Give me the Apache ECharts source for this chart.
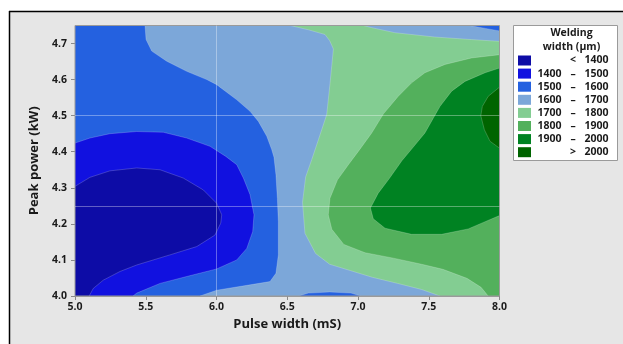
<!DOCTYPE html>
<html>
<head>
<meta charset="utf-8">
<script src="https://cdn.jsdelivr.net/npm/echarts@6/dist/echarts.min.js"></script>
<style>
  html, body { margin: 0; padding: 0; background: #ffffff; }
  #chart { width: 623px; height: 344px; }
</style>
</head>
<body>
<div id="chart"></div>
<script>
// Axis ranges and tick labels
const pulseRange = [5.0, 8.0];
const powerRange = [4.0, 4.75];
const pulseTicks = [5.0, 5.5, 6.0, 6.5, 7.0, 7.5, 8.0];
const powerTicks = [4.0, 4.1, 4.2, 4.3, 4.4, 4.5, 4.6, 4.7];

// Reference lines
const refPulse = [6.0];
const refPower = [4.25, 4.5];

// Welding width classes (µm)
const levelLow  = [null, 1400, 1500, 1600, 1700, 1800, 1900, 2000];
const levelHigh = [1400, 1500, 1600, 1700, 1800, 1900, 2000, null];
const levelColors = ['#0d0ca6', '#1111e0', '#2461e0', '#7ca7d9', '#83cd92', '#53b05c', '#008222', '#006400'];

// Contour lines, [pulse width, peak power]
const c1600West = [[5.495,4.75],[5.502,4.711],[5.542,4.679],[5.648,4.651],[5.789,4.623],[5.931,4.600],[6.001,4.586],[6.143,4.544],[6.237,4.512],[6.296,4.484],[6.355,4.443],[6.390,4.406],[6.406,4.385],[6.420,4.336],[6.430,4.271],[6.437,4.206],[6.437,4.114],[6.420,4.063],[6.378,4.040],[6.237,4.031],[6.001,4.016],[5.883,4.0]];
const c1600Bump = [[6.58,4.0],[6.65,4.008],[6.8,4.011],[6.95,4.008],[7.02,4.0]];
const c1600Corner = [[7.79,4.75],[7.9,4.742],[8.0,4.735]];
const c1500 = [[5.0,4.424],[5.106,4.438],[5.247,4.450],[5.436,4.456],[5.624,4.454],[5.789,4.438],[5.954,4.415],[6.066,4.387],[6.143,4.364],[6.190,4.327],[6.237,4.281],[6.265,4.225],[6.256,4.179],[6.214,4.132],[6.143,4.100],[6.001,4.075],[5.789,4.054],[5.601,4.035],[5.436,4.008],[5.41,4.0]];
const c1400 = [[5.0,4.304],[5.106,4.329],[5.247,4.347],[5.436,4.355],[5.601,4.350],[5.765,4.327],[5.907,4.294],[6.001,4.257],[6.037,4.225],[6.030,4.202],[5.989,4.169],[5.860,4.137],[5.671,4.114],[5.436,4.086],[5.318,4.068],[5.200,4.044],[5.129,4.021],[5.10,4.0]];
const c1700 = [[6.52,4.75],[6.65,4.738],[6.767,4.725],[6.80,4.708],[6.826,4.685],[6.815,4.640],[6.802,4.588],[6.779,4.503],[6.720,4.433],[6.673,4.378],[6.630,4.330],[6.608,4.260],[6.625,4.174],[6.70,4.118],[6.80,4.088],[6.95,4.070],[7.10,4.052],[7.28,4.035],[7.45,4.018],[7.58,4.0]];
const c1700North = [[8.0,4.706],[7.803,4.711],[7.544,4.718],[7.261,4.730],[7.097,4.744],[7.037,4.75]];
const c1800 = [[8.0,4.669],[7.803,4.660],[7.615,4.642],[7.473,4.619],[7.379,4.591],[7.285,4.554],[7.180,4.505],[7.097,4.452],[7.010,4.405],[6.932,4.364],[6.855,4.322],[6.802,4.271],[6.790,4.225],[6.815,4.185],[6.900,4.143],[7.05,4.120],[7.25,4.105],[7.45,4.088],[7.60,4.074],[7.77,4.049],[7.87,4.024],[7.92,4.0]];
const c1900 = [[8.0,4.632],[7.898,4.619],[7.756,4.595],[7.662,4.568],[7.580,4.526],[7.535,4.495],[7.473,4.452],[7.391,4.413],[7.310,4.375],[7.220,4.325],[7.143,4.285],[7.088,4.244],[7.108,4.214],[7.191,4.188],[7.379,4.171],[7.591,4.171],[7.779,4.186],[7.898,4.206],[8.0,4.223]];
const c2000 = [[8.0,4.579],[7.921,4.554],[7.879,4.526],[7.868,4.500],[7.893,4.461],[7.933,4.429],[8.0,4.410]];

const [x0, x1] = pulseRange;
const [y0, y1] = powerRange;

// Filled bands, painted from the background level upward
const regions = [
  { level: 3, points: [[x0, y0], [x1, y0], [x1, y1], [x0, y1]] },
  { level: 2, points: c1600West.concat([[x0, y0], [x0, y1]]) },
  { level: 2, points: c1600Bump },
  { level: 2, points: c1600Corner.concat([[x1, y1]]) },
  { level: 1, points: c1500.concat([[x0, y0]]) },
  { level: 0, points: c1400.concat([[x0, y0]]) },
  { level: 4, points: c1700.concat([[x1, y0]], c1700North) },
  { level: 5, points: c1800.concat([[x1, y0]]) },
  { level: 6, points: c1900 },
  { level: 7, points: c2000 }
];
const contourLines = [c1600West, c1600Bump, c1600Corner, c1500, c1400, c1700, c1700North, c1800, c1900, c2000];

const FONT = '"Open Sans", "Noto Sans", sans-serif';
const TEXT = '#1a1a1a';

// Legend block built from the level arrays
const legendX = 513.5, legendY = 25.5, legendW = 104, legendH = 135;
const rowY = i => 60.5 + i * 13.1;
const legendFont = 'bold 10.5px ' + FONT;
const legendGraphics = [
  { type: 'rect', shape: { x: legendX, y: legendY, width: legendW, height: legendH },
    style: { fill: '#ffffff', stroke: '#9a9a9a', lineWidth: 1 }, z: 100 },
  { type: 'text', x: 571.5, y: 33.5, z: 101,
    style: { text: 'Welding', font: legendFont, fill: TEXT, align: 'center', verticalAlign: 'middle' } },
  { type: 'text', x: 571.5, y: 47.5, z: 101,
    style: { text: 'width (µm)', font: legendFont, fill: TEXT, align: 'center', verticalAlign: 'middle' } }
];
levelColors.forEach((c, i) => {
  const y = rowY(i);
  legendGraphics.push({ type: 'rect', z: 101, shape: { x: 518, y: y - 5, width: 13, height: 10 }, style: { fill: c } });
  const lo = levelLow[i], hi = levelHigh[i];
  const sym = lo === null ? '<' : (hi === null ? '>' : '–');
  const left = lo === null ? '' : (hi === null ? '' : String(lo));
  const right = hi === null ? String(lo) : String(hi);
  if (left) legendGraphics.push({ type: 'text', z: 101, x: 561.5, y: y,
    style: { text: left, font: legendFont, fill: TEXT, align: 'right', verticalAlign: 'middle' } });
  legendGraphics.push({ type: 'text', z: 101, x: 573, y: y,
    style: { text: sym, font: legendFont, fill: TEXT, align: 'center', verticalAlign: 'middle' } });
  legendGraphics.push({ type: 'text', z: 101, x: 608.5, y: y,
    style: { text: right, font: legendFont, fill: TEXT, align: 'right', verticalAlign: 'middle' } });
});

const chart = echarts.init(document.getElementById('chart'), null, { renderer: 'canvas' });

chart.setOption({
  backgroundColor: '#ffffff',
  animation: false,
  textStyle: { fontFamily: FONT },
  grid: { left: 75, right: 123.5, top: 25.5, bottom: 48, show: true, borderColor: '#9a9a9a', borderWidth: 1, backgroundColor: 'transparent', z: 5 },
  graphic: [
    { type: 'rect', z: -10, silent: true, shape: { x: 10, y: 12, width: 613, height: 332 }, style: { fill: '#e6e6e6' } },
    { type: 'line', z: 50, silent: true, shape: { x1: 9, y1: 11.5, x2: 623, y2: 11.5 }, style: { stroke: '#000000', lineWidth: 1.5 } },
    { type: 'line', z: 50, silent: true, shape: { x1: 9.5, y1: 11, x2: 9.5, y2: 344 }, style: { stroke: '#000000', lineWidth: 1.5 } }
  ].concat(legendGraphics),
  xAxis: {
    type: 'value', min: pulseRange[0], max: pulseRange[1], interval: 0.5,
    name: 'Pulse width (mS)', nameLocation: 'middle', nameGap: 21,
    nameTextStyle: { fontSize: 13, fontWeight: 'bold', color: TEXT, fontFamily: FONT },
    axisLine: { show: true, lineStyle: { color: '#9a9a9a' } },
    axisTick: { show: true, inside: false, length: 4, lineStyle: { color: '#8a8a8a' }, customValues: pulseTicks },
    axisLabel: { fontSize: 10.5, fontWeight: 'bold', color: TEXT, margin: 6, customValues: pulseTicks, formatter: v => v.toFixed(1) },
    splitLine: { show: false }
  },
  yAxis: {
    type: 'value', min: powerRange[0], max: powerRange[1], interval: 0.1,
    name: 'Peak power (kW)', nameLocation: 'middle', nameGap: 28,
    nameTextStyle: { fontSize: 13, fontWeight: 'bold', color: TEXT, fontFamily: FONT },
    axisLine: { show: true, lineStyle: { color: '#9a9a9a' } },
    axisTick: { show: true, inside: false, length: 4, lineStyle: { color: '#8a8a8a' }, customValues: powerTicks },
    axisLabel: { fontSize: 10.5, fontWeight: 'bold', color: TEXT, margin: 8, customValues: powerTicks, formatter: v => v.toFixed(1) },
    splitLine: { show: false }
  },
  series: [
    {
      type: 'custom', name: 'bands', coordinateSystem: 'cartesian2d', clip: true, silent: true, z: 2,
      data: regions.map((r, i) => [r.points[0][0], r.points[0][1], i]),
      encode: { x: 0, y: 1 },
      renderItem: (params, api) => {
        const r = regions[params.dataIndex];
        return {
          type: 'polygon',
          shape: { points: r.points.map(p => api.coord(p)) },
          style: { fill: levelColors[r.level], stroke: null }
        };
      }
    },
    {
      type: 'custom', name: 'contours', coordinateSystem: 'cartesian2d', clip: true, silent: true, z: 3,
      data: contourLines.map((l, i) => [l[0][0], l[0][1], i]),
      encode: { x: 0, y: 1 },
      renderItem: (params, api) => {
        const l = contourLines[params.dataIndex];
        return {
          type: 'polyline',
          shape: { points: l.map(p => api.coord(p)) },
          style: { fill: null, stroke: 'rgba(255,255,255,0.2)', lineWidth: 1 }
        };
      },
      markLine: {
        silent: true, symbol: 'none', animation: false,
        label: { show: false },
        lineStyle: { color: 'rgba(255,255,255,0.35)', type: 'solid', width: 1 },
        data: refPulse.map(v => ({ xAxis: v })).concat(refPower.map(v => ({ yAxis: v })))
      }
    }
  ]
});
</script>
</body>
</html>
